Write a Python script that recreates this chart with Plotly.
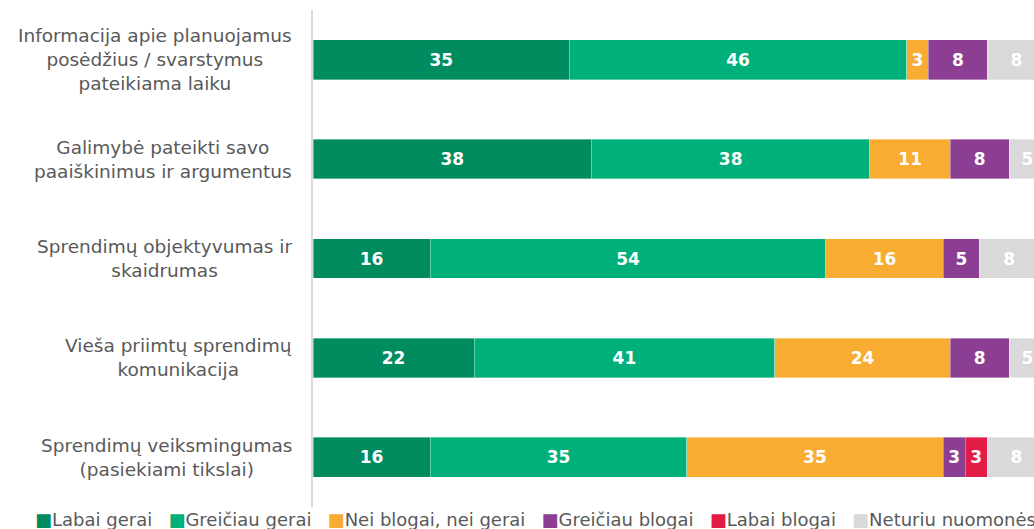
import plotly.graph_objects as go

categories = [
    "Informacija apie planuojamus<br>posėdžius / svarstymus<br>pateikiama laiku",
    "Galimybė pateikti savo<br>paaiškinimus ir argumentus",
    "Sprendimų objektyvumas ir<br>skaidrumas",
    "Vieša priimtų sprendimų<br>komunikacija",
    "Sprendimų veiksmingumas<br>(pasiekiami tikslai)",
]
series_names = ["Labai gerai", "Greičiau gerai", "Nei blogai, nei gerai",
                "Greičiau blogai", "Labai blogai", "Neturiu nuomonės"]
labai_gerai = [35, 38, 16, 22, 16]
greiciau_gerai = [46, 38, 54, 41, 35]
nei_nei = [3, 11, 16, 24, 35]
greiciau_blogai = [8, 8, 5, 8, 3]
labai_blogai = [0, 0, 0, 0, 3]
neturiu = [8, 5, 8, 5, 8]
series_values = [labai_gerai, greiciau_gerai, nei_nei, greiciau_blogai, labai_blogai, neturiu]
colors = ["#008C5F", "#00B07B", "#F8AC31", "#8C3F92", "#E31C47", "#D9D9D9"]

FONT = "DejaVu Sans"
fig = go.Figure()
for name, vals, col in zip(series_names, series_values, colors):
    fig.add_trace(go.Bar(
        y=categories, x=vals, name=name, orientation="h",
        marker=dict(color=col, line=dict(color="rgba(255,255,255,0.6)", width=0.6)),
        text=[str(v) if v else "" for v in vals],
        textposition="inside", insidetextanchor="middle", textangle=0,
        textfont=dict(family=FONT, size=17, color="white", weight="bold"),
        constraintext="none",
        showlegend=False,
    ))

# category labels (centered multi-line)
for c in categories:
    fig.add_annotation(
        x=0, xref="paper", y=c, yref="y", text=c, showarrow=False,
        xanchor="right", xshift=-19, align="center",
        font=dict(family=FONT, size=18.5, color="#595959"),
    )

# legend row
items = []
for name, col in zip(series_names, colors):
    items.append(f'<span style="color:{col}">■</span>{name}')
legend_text = "\u2002\u2009\u2009".join(items)
fig.add_annotation(
    x=(535 - 313) / 721, xref="paper", y=0, yref="paper", yanchor="top", yshift=0,
    xanchor="center", text=legend_text, showarrow=False,
    font=dict(family=FONT, size=18, color="#595959"),
)

fig.update_layout(
    barmode="stack", bargap=0.6,
    width=1034, height=529,
    margin=dict(l=313, r=0, t=10, b=22, autoexpand=False),
    paper_bgcolor="white", plot_bgcolor="white",
    font=dict(family=FONT, size=17, color="#595959"),
    xaxis=dict(range=[0, 98.4], showgrid=False, zeroline=False, showticklabels=False,
               fixedrange=True),
    yaxis=dict(autorange="reversed", showticklabels=False, showgrid=False,
               showline=True, linecolor="#D9D9D9", linewidth=2, zeroline=False),
    showlegend=False,
)
fig.write_html("out.html", post_script="document.body.style.margin='0';",
               config={"displayModeBar": False})
